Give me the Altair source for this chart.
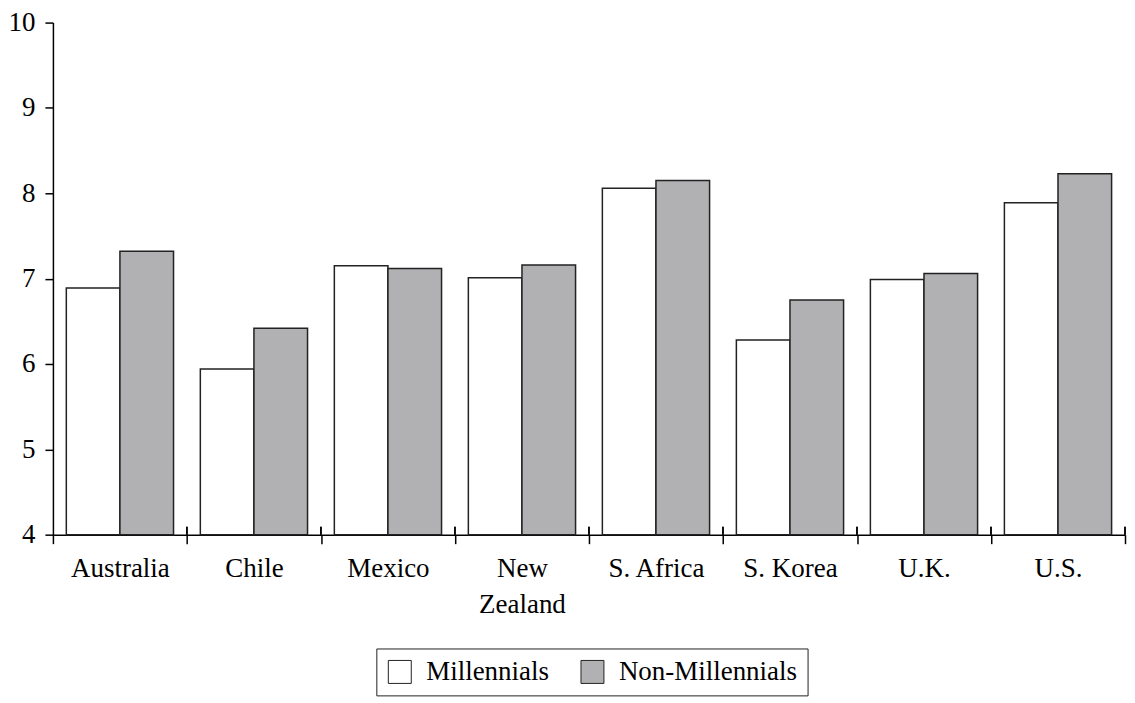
import altair as alt
import pandas as pd

countries = ["Australia", "Chile", "Mexico", "New Zealand", "S. Africa", "S. Korea", "U.K.", "U.S."]
groups = ["Millennials", "Non-Millennials"]
millennials = [6.89, 5.94, 7.15, 7.01, 8.06, 6.28, 6.99, 7.89]
non_millennials = [7.32, 6.42, 7.12, 7.16, 8.15, 6.75, 7.06, 8.23]
y_ticks = [4, 5, 6, 7, 8, 9, 10]

rows = []
for c, m, n in zip(countries, millennials, non_millennials):
    rows.append({"country": c, "group": groups[0], "value": m})
    rows.append({"country": c, "group": groups[1], "value": n})
df = pd.DataFrame(rows)

FONT = "Liberation Serif"
W, H = 1074, 513

x_enc = alt.X(
    "country:N",
    sort=countries,
    scale=alt.Scale(paddingInner=0, paddingOuter=0),
    axis=alt.Axis(
        title=None,
        labelAngle=0,
        tickBand="extent",
        tickSize=9,
        labelPadding=12,
        labelFontSize=27,
        labelLineHeight=36,
        labelExpr="datum.label == 'New Zealand' ? ['New', 'Zealand'] : datum.label",
    ),
)

bars = alt.Chart(df).mark_bar(stroke="#222222", strokeWidth=1.5).encode(
    x=x_enc,
    xOffset=alt.XOffset("group:N", sort=groups,
                        scale=alt.Scale(paddingInner=0, paddingOuter=0.25)),
    y=alt.Y(
        "value:Q",
        scale=alt.Scale(domain=[4, 10], zero=False, nice=False),
        axis=alt.Axis(title=None, values=y_ticks, tickSize=8, labelPadding=10,
                      labelFontSize=27, grid=False),
    ),
    y2=alt.datum(4),
    fill=alt.Fill(
        "group:N",
        sort=groups,
        scale=alt.Scale(domain=groups, range=["#ffffff", "#b1b1b4"]),
        legend=alt.Legend(
            title=None,
            orient="none",
            legendX=324,
            legendY=627,
            direction="horizontal",
            symbolType="square",
            symbolSize=529,
            symbolStrokeColor="#222222",
            symbolStrokeWidth=1,
            labelFontSize=27,
            labelFont=FONT,
            labelColor="black",
            labelLimit=0,
            labelOffset=13,
            columnPadding=30,
            padding=10,
            strokeColor="#222222",
            fillColor="white",
        ),
    ),
)

upticks = alt.Chart(df).mark_rule(color="black", strokeWidth=1.5).encode(
    x=alt.X("country:N", sort=countries, bandPosition=1),
    y=alt.value(H - 8),
    y2=alt.value(H),
)

chart = (
    alt.layer(bars, upticks)
    .properties(width=W, height=H, padding={"left": 0, "top": 0, "right": 1, "bottom": 0})
    .configure_view(stroke=None)
    .configure_axis(
        domainColor="black",
        domainWidth=1.5,
        tickColor="black",
        tickWidth=1.5,
        labelColor="black",
        labelFont=FONT,
    )
    .configure_legend(labelFont=FONT, labelLimit=0)
)

chart.save("out.html", embed_options={"renderer": "svg", "actions": False})
